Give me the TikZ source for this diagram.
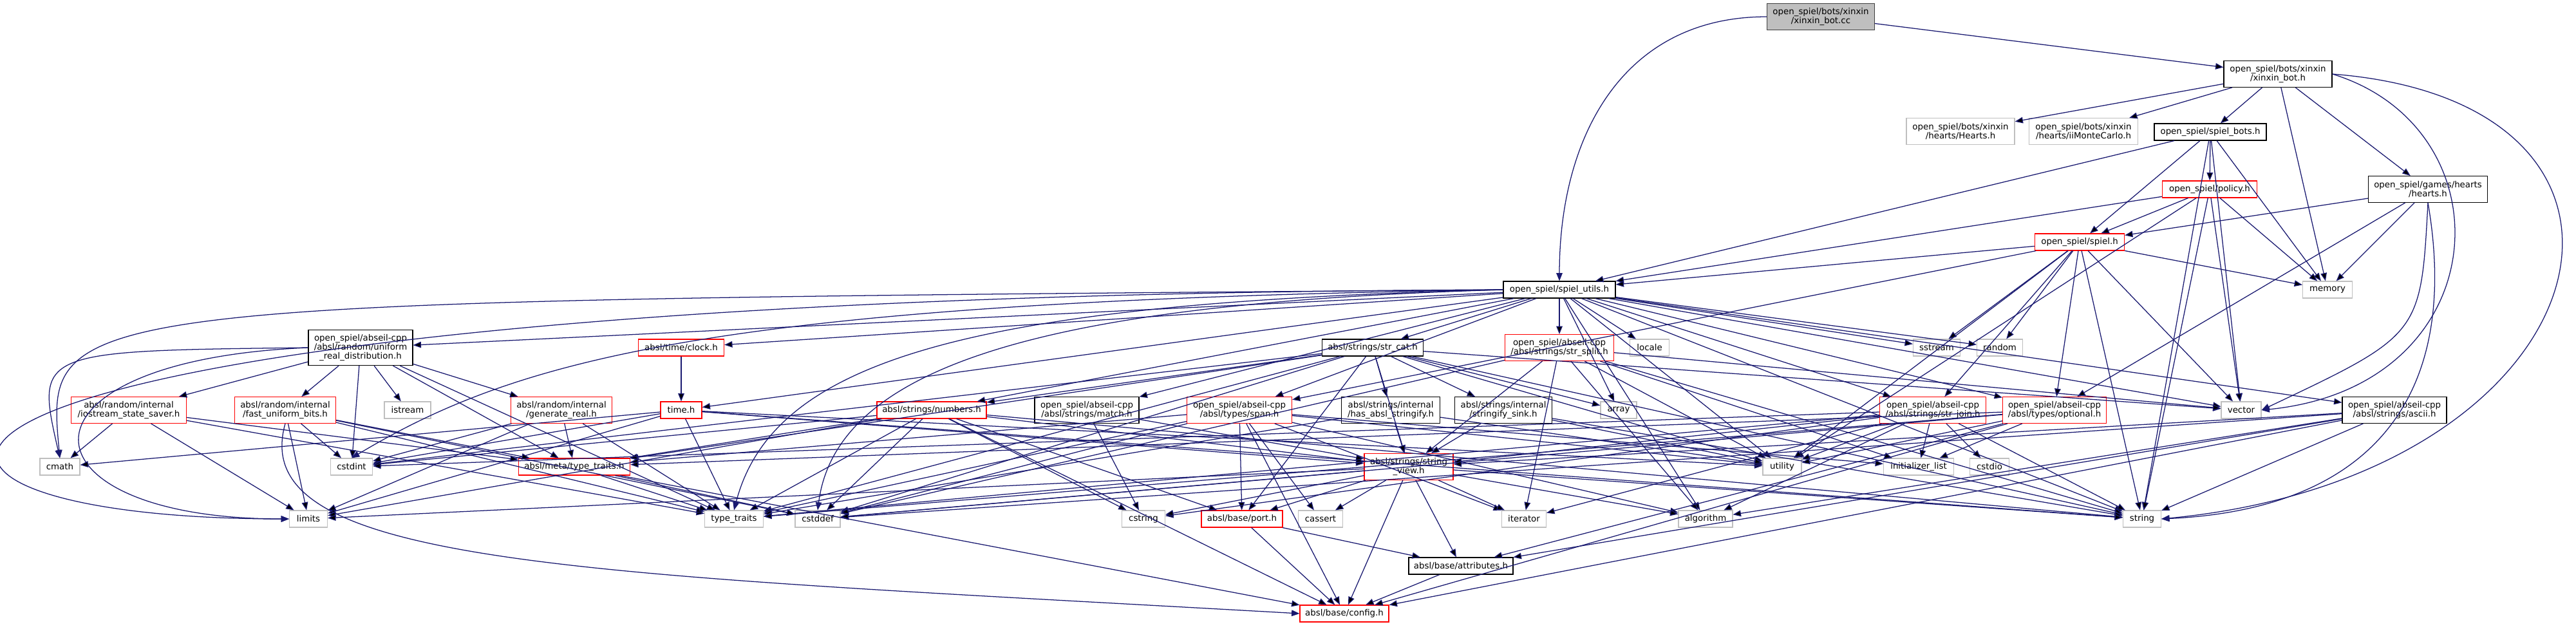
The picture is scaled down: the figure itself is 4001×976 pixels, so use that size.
\documentclass[tikz,border=0pt]{standalone}
\usepackage{fontspec}
\setmainfont{DejaVu Sans}
\usetikzlibrary{arrows.meta}

\definecolor{azulflecha}{HTML}{191970}
\definecolor{grisborde}{HTML}{BFBFBF}
\definecolor{grisfondo}{HTML}{BFBFBF}

\begin{document}
\begin{tikzpicture}[
		x=0.025cm, y=-0.025cm,
		% Estilos de nodos
		archivo/.style={draw=black, fill=white, line width=0.8pt, rectangle, inner sep=0pt, align=center, minimum height=0.65cm, font=\fontsize{9.5}{10.2}\selectfont},
		truncado/.style={archivo, draw=red},
		sistema/.style={archivo, draw=grisborde},
		foco/.style={archivo, fill=grisfondo, draw=black!75},
		dos/.style={minimum height=1.02cm},
		tres/.style={minimum height=1.38cm},
		ancho/.style={minimum width=#1*0.025cm},
		% Estilo de flechas
		flecha/.style={-{Triangle[length=3.1mm, width=2.4mm]}, draw=azulflecha, line width=0.9pt}
		]
		\useasboundingbox (0,0) rectangle (4001,976);
		
		% --- ARCHIVO PRINCIPAL Y BOTS ---
		\node[foco, dos, ancho=167] (cc) at (2828,26) {open\_spiel/bots/xinxin\\/xinxin\_bot.cc};
		\node[archivo, dos, ancho=168] (xbh) at (3538,115) {open\_spiel/bots/xinxin\\/xinxin\_bot.h};
		\node[sistema, dos, ancho=168] (heartsH) at (3045,204) {open\_spiel/bots/xinxin\\/hearts/Hearts.h};
		\node[sistema, dos, ancho=169] (iimc) at (3236,204) {open\_spiel/bots/xinxin\\/hearts/iiMonteCarlo.h};
		\node[archivo, ancho=174] (bots) at (3433,205) {open\_spiel/spiel\_bots.h};
		\node[truncado, ancho=147] (policy) at (3432,294) {open\_spiel/policy.h};
		\node[archivo, dos, ancho=185] (hearts) at (3771,294) {open\_spiel/games/hearts\\/hearts.h};
		\node[truncado, ancho=139] (spiel) at (3230,376) {open\_spiel/spiel.h};
		\node[archivo, ancho=174] (utils) at (2422,450) {open\_spiel/spiel\_utils.h};
		\node[sistema, ancho=77] (memory) at (3615,450) {memory};
		
		% --- CABECERAS ABSEIL ---
		\node[archivo, tres, ancho=162] (urd) at (560,540) {open\_spiel/abseil-cpp\\/absl/random/uniform\\\_real\_distribution.h};
		\node[truncado, ancho=133] (clock) at (1058,540) {absl/time/clock.h};
		\node[archivo, ancho=157] (strcat) at (2132,540) {absl/strings/str\_cat.h};
		\node[truncado, dos, ancho=169] (strsplit) at (2422,540) {open\_spiel/abseil-cpp\\/absl/strings/str\_split.h};
		\node[sistema, ancho=61] (locale) at (2562,540) {locale};
		\node[sistema, ancho=73] (sstream) at (3008,540) {sstream};
		\node[sistema, ancho=71] (random) at (3106,540) {random};
		
		\node[truncado, dos, ancho=179] (iss) at (200,637) {absl/random/internal\\/iostream\_state\_saver.h};
		\node[truncado, dos, ancho=157] (fub) at (443,637) {absl/random/internal\\/fast\_uniform\_bits.h};
		\node[sistema, ancho=72] (istream) at (633,637) {istream};
		\node[truncado, dos, ancho=157] (genreal) at (872,637) {absl/random/internal\\/generate\_real.h};
		\node[truncado, ancho=64] (timeh) at (1058,637) {time.h};
		\node[truncado, ancho=170] (numbers) at (1447,637) {absl/strings/numbers.h};
		\node[archivo, dos, ancho=162] (match) at (1688,637) {open\_spiel/abseil-cpp\\/absl/strings/match.h};
		\node[truncado, dos, ancho=163] (span) at (1925,637) {open\_spiel/abseil-cpp\\/absl/types/span.h};
		\node[archivo, dos, ancho=153] (hasstr) at (2160,637) {absl/strings/internal\\/has\_absl\_stringify.h};
		\node[archivo, dos, ancho=151] (sink) at (2335,637) {absl/strings/internal\\/stringify\_sink.h};
		\node[sistema, ancho=56] (array) at (2514,637) {array};
		\node[truncado, dos, ancho=165] (strjoin) at (3002,637) {open\_spiel/abseil-cpp\\/absl/strings/str\_join.h};
		\node[truncado, dos, ancho=161] (optional) at (3191,637) {open\_spiel/abseil-cpp\\/absl/types/optional.h};
		\node[sistema, ancho=62] (vector) at (3481,637) {vector};
		\node[archivo, dos, ancho=162] (ascii) at (3719,637) {open\_spiel/abseil-cpp\\/absl/strings/ascii.h};
		
		\node[sistema, ancho=62] (cmath) at (93,725) {cmath};
		\node[sistema, ancho=65] (cstdint) at (546,725) {cstdint};
		\node[truncado, ancho=173] (metatt) at (892,725) {absl/meta/type\_traits.h};
		\node[truncado, dos, ancho=138] (sv) at (2188,725) {absl/strings/string\\\_view.h};
		\node[sistema, ancho=60] (utility) at (2768,725) {utility};
		\node[sistema, ancho=109] (initlist) at (2980,725) {initializer\_list};
		\node[sistema, ancho=61] (cstdio) at (3090,725) {cstdio};
		
		\node[sistema, ancho=59] (limits) at (479,806) {limits};
		\node[sistema, ancho=91] (tt) at (1140,806) {type\_traits};
		\node[sistema, ancho=70] (cstddef) at (1270,806) {cstddef};
		\node[sistema, ancho=67] (cstring) at (1776,806) {cstring};
		\node[truncado, ancho=126] (port) at (1929,806) {absl/base/port.h};
		\node[sistema, ancho=69] (cassert) at (2051,806) {cassert};
		\node[sistema, ancho=69] (iterator) at (2367,806) {iterator};
		\node[sistema, ancho=84] (algorithm) at (2649,806) {algorithm};
		\node[sistema, ancho=59] (string) at (3327,806) {string};
		
		\node[archivo, ancho=162] (attributes) at (2269,879) {absl/base/attributes.h};
		\node[truncado, ancho=138] (config) at (2088,953) {absl/base/config.h};
		
		% --- INCLUSIONES ---
		\path[flecha] (cc) edge (xbh);
		\draw[flecha] (cc.west) to[out=180, in=90, looseness=1.1] (utils.north);
		\path[flecha] (xbh) edge (heartsH) edge (iimc) edge (bots) edge (hearts) edge (memory);
		% curvas largas por la derecha
		\draw[flecha] (xbh.east) .. controls (4200,160) and (4050,740) .. (string.east);
		\draw[flecha] (xbh.east) .. controls (3900,200) and (3880,600) .. (vector.east);
		\path[flecha] (bots) edge (policy) edge (spiel) edge (utils) edge (memory) edge (vector) edge (string);
		\path[flecha] (policy) edge (spiel) edge (utils) edge (memory) edge (vector) edge (string) edge (utility);
		\path[flecha] (hearts) edge (spiel) edge (memory) edge (optional);
		\draw[flecha] (hearts.south) .. controls (3760,520) .. (vector.east);
		\draw[flecha] (hearts.south) .. controls (3820,600) and (3700,790) .. (string.east);
		\path[flecha] (spiel) edge (utils) edge (span) edge (optional) edge (strjoin) edge (sstream) edge (random) edge (memory) edge (vector) edge (string) edge (utility);
		\path[flecha] (utils) edge (urd) edge (clock) edge (timeh) edge (numbers) edge (match) edge (span) edge (strcat) edge (strsplit) edge (locale) edge (sstream) edge (random) edge (strjoin) edge (optional) edge (ascii) edge (vector) edge (array) edge (algorithm) edge (string) edge (utility);
		% curvas largas por la izquierda
		\draw[flecha] (utils.west) .. controls (1100,468) and (800,560) .. (cstdint.north);
		\draw[flecha] (utils.west) .. controls (1500,470) and (1200,560) .. (tt.north);
		\draw[flecha] (utils.west) .. controls (1650,470) and (1300,560) .. (cstddef.north);
		\draw[flecha] (utils.west) .. controls (70,468) .. (cmath.north);
		\draw[flecha] (utils.west) .. controls (-330,460) and (-330,806) .. (limits.west);
		
		% Cabeceras de abseil
		\path[flecha] (urd) edge (iss) edge (fub) edge (istream) edge (genreal) edge (metatt) edge (cstdint) edge (tt);
		\draw[flecha] (urd.west) .. controls (55,545) .. (cmath.north);
		\draw[flecha] (urd.west) .. controls (0,560) and (20,806) .. (limits.west);
		\path[flecha] (clock) edge (timeh);
		\path[flecha] (timeh) edge (cmath) edge (cstdint) edge (limits) edge (tt) edge (sv) edge (string) edge (utility);
		\path[flecha] (strcat) edge (hasstr) edge (sink) edge (array) edge (numbers) edge (sv) edge (port) edge (cstdint) edge (cstddef) edge (string) edge (tt) edge (utility) edge (vector) edge (metatt);
		\path[flecha] (strsplit) edge (sv) edge (algorithm) edge (cstddef) edge (string) edge (utility) edge (vector) edge (initlist) edge (iterator);
		\path[flecha] (iss) edge (cmath) edge (limits) edge (tt) edge (metatt);
		\path[flecha] (fub) edge (cstdint) edge (limits) edge (tt) edge (metatt) edge (cstddef);
		\draw[flecha] (fub.south) .. controls (380,880) and (900,890) .. (config.west);
		\path[flecha] (genreal) edge (cstdint) edge (limits) edge (metatt) edge (tt);
		\path[flecha] (numbers) edge (metatt) edge (tt) edge (cstddef) edge (config) edge (cstring) edge (port) edge (limits) edge (string) edge (sv) edge (cstdint);
		\path[flecha] (match) edge (cstring) edge (sv);
		\path[flecha] (span) edge (port) edge (metatt) edge (cassert) edge (cstddef) edge (initlist) edge (iterator) edge (tt) edge (utility) edge (algorithm) edge (config);
		\path[flecha] (hasstr) edge (sv) edge (utility) edge (tt);
		\path[flecha] (sink) edge (sv) edge (string) edge (utility);
		\path[flecha] (strjoin) edge (sv) edge (cstdio) edge (cstring) edge (initlist) edge (iterator) edge (string) edge (tt) edge (utility) edge (cstdint) edge (algorithm);
		\path[flecha] (optional) edge (config) edge (attributes) edge (utility) edge (metatt) edge (initlist) edge (tt) edge (cstddef);
		\path[flecha] (ascii) edge (attributes) edge (config) edge (string) edge (sv) edge (algorithm) edge (cstddef);
		\path[flecha] (metatt) edge (config) edge (tt) edge (cstddef);
		\path[flecha] (sv) edge (config) edge (attributes) edge (port) edge (cassert) edge (iterator) edge (algorithm) edge (cstddef) edge (cstring) edge (limits) edge (string);
		\path[flecha] (port) edge (config) edge (attributes);
		\path[flecha] (attributes) edge (config);
		
	\end{tikzpicture}
\end{document}
